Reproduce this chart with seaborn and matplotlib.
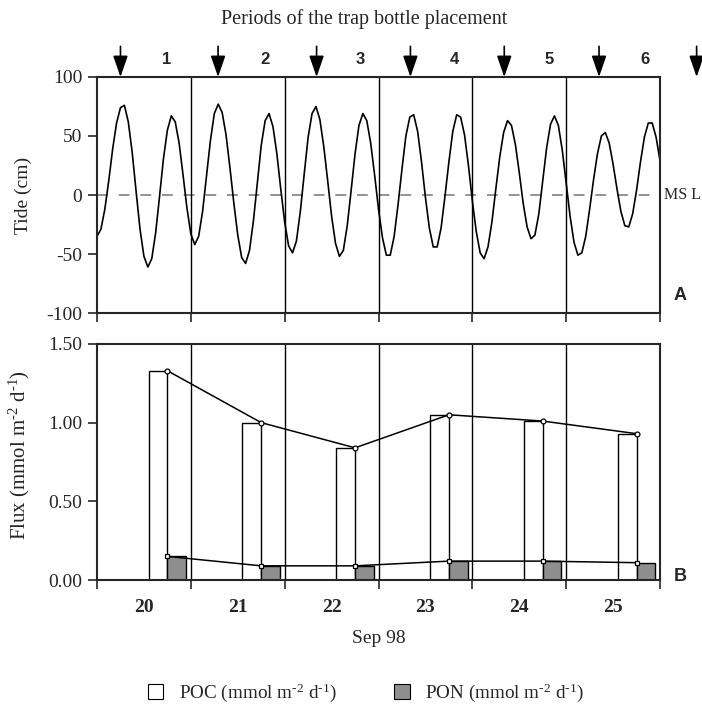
import numpy as np
import pandas as pd
import matplotlib
matplotlib.use('Agg')
import matplotlib.pyplot as plt
import seaborn as sns
from matplotlib.patches import Patch

# tide (cm, relative to MSL), hourly readings from 20 Sep 00:00 to 26 Sep 00:00
tide_cm = [-35, -29, -12, 12, 39, 61, 74, 76, 62, 36, 3, -29, -52, -61,
           -54, -32, -1, 31, 55, 67, 62, 44, 17, -11, -33, -42, -35, -14,
           16, 46, 69, 77, 70, 51, 23, -7, -34, -53, -58, -47, -22, 10,
           42, 63, 69, 58, 35, 5, -23, -43, -49, -39, -14, 18, 49, 69,
           75, 64, 41, 12, -18, -41, -52, -47, -26, 4, 35, 59, 69, 63,
           44, 17, -12, -36, -51, -51, -35, -8, 22, 50, 66, 68, 54, 28,
           -2, -28, -44, -44, -28, -1, 28, 54, 68, 66, 51, 25, -5, -31,
           -49, -54, -44, -23, 5, 32, 53, 63, 59, 43, 19, -7, -27, -37,
           -34, -16, 12, 40, 60, 67, 59, 38, 10, -18, -40, -51, -49, -35,
           -12, 13, 35, 50, 53, 44, 26, 5, -14, -26, -27, -16, 4, 28,
           49, 61, 61, 49, 29]

# trap fluxes per day
days = [20, 21, 22, 23, 24, 25]
poc_flux = [1.33, 1.00, 0.84, 1.05, 1.01, 0.93]
pon_flux = [0.15, 0.09, 0.09, 0.12, 0.12, 0.11]

# trap bottle placement times (day of Sep) and period names
trap_times = [20.25, 21.29, 22.34, 23.34, 24.34, 25.35, 26.39]
periods = ['1', '2', '3', '4', '5', '6']

sns.set_style('ticks')
plt.rcParams['font.family'] = ['Liberation Serif', 'DejaVu Serif']
plt.rcParams['mathtext.fontset'] = 'custom'
plt.rcParams['mathtext.rm'] = 'Liberation Serif'
plt.rcParams['mathtext.it'] = 'Liberation Serif:italic'
plt.rcParams['axes.unicode_minus'] = False
plt.rcParams['axes.linewidth'] = 1.5

unit = r'(mmol m$^{\text{-2}}$ d$^{\text{-1}}$)'

fig = plt.figure(figsize=(7.02, 7.05), dpi=100)
ax1 = fig.add_axes([0.1382, 0.5560, 0.8020, 0.3348])
ax2 = fig.add_axes([0.1382, 0.1773, 0.8020, 0.3348])

# --- A: tide ---
tide = pd.DataFrame({'day': 20 + np.arange(len(tide_cm)) / 24, 'tide': tide_cm})
sns.lineplot(data=tide, x='day', y='tide', color='black', lw=1.2, ax=ax1)
ax1.axhline(0, color='#8a8a8a', lw=1.3, ls=(0, (6, 6)), zorder=1)
for d in days[1:]:
    ax1.axvline(d, color='black', lw=1.0, zorder=1)

ax1.set_xlim(20, 26)
ax1.set_ylim(-100, 100)
ax1.set_xticks(range(20, 27))
ax1.set_xticklabels([])
ax1.set_yticks([-100, -50, 0, 50, 100])
ax1.tick_params(direction='out', length=6.5, width=1.2, labelsize=14, pad=4)
ax1.set_xlabel('')
ax1.set_ylabel('Tide (cm)', fontsize=14)
ax1.yaxis.set_label_coords(-0.115, 0.5)
ax1.text(1.007, 0, 'MS L', transform=ax1.get_yaxis_transform(), fontsize=11.5,
         ha='left', va='center')
ax1.text(1.036, 0.076, 'A', transform=ax1.transAxes, fontsize=13,
         fontweight='bold', family='Liberation Sans', ha='center', va='center')

# arrows for trap bottle placement + period numbers
for t in trap_times:
    ax1.annotate('', xy=(t, 1.0), xytext=(t, 1.13),
                 xycoords=('data', 'axes fraction'),
                 textcoords=('data', 'axes fraction'),
                 arrowprops=dict(arrowstyle='-|>,head_length=1.3,head_width=0.45',
                                 color='black', lw=1.2, shrinkA=0, shrinkB=0,
                                 mutation_scale=10),
                 annotation_clip=False)
for i, p in enumerate(periods):
    xm = (trap_times[i] + trap_times[i + 1]) / 2 - 0.03
    ax1.text(xm, 1.072, p, transform=ax1.get_xaxis_transform(), fontsize=12,
             fontweight='bold', family='Liberation Sans', ha='center', va='center')
fig.text(364 / 702, 1 - 19 / 705, 'Periods of the trap bottle placement',
         fontsize=14.5, ha='center', va='center')

# --- B: fluxes ---
day_arr = np.array(days, dtype=float)
for d in days[1:]:
    ax2.axvline(d, color='black', lw=1.0, zorder=0)
sns.barplot(x=day_arr + 0.65, y=poc_flux, native_scale=True, orient='x',
            width=0.2, color='white', saturation=1, edgecolor='black',
            linewidth=1.0, errorbar=None, ax=ax2, zorder=2)
sns.barplot(x=day_arr + 0.85, y=pon_flux, native_scale=True, orient='x',
            width=0.2, color='#8e8e8e', saturation=1, edgecolor='black',
            linewidth=1.0, errorbar=None, ax=ax2, zorder=2)
sns.lineplot(x=day_arr + 0.75, y=poc_flux, color='black', lw=1.1, marker='o',
             ms=3.5, mfc='white', mec='black', mew=0.9, ax=ax2, zorder=3)
sns.lineplot(x=day_arr + 0.75, y=pon_flux, color='black', lw=1.1, marker='s',
             ms=3.5, mfc='white', mec='black', mew=0.9, ax=ax2, zorder=3)

ax2.set_xlim(20, 26)
ax2.set_ylim(0, 1.5)
ax2.set_xticks(range(20, 27))
ax2.set_xticklabels([])
ax2.set_xticks(day_arr + 0.5, minor=True)
ax2.set_xticklabels([str(d) for d in days], minor=True, fontweight='bold')
ax2.tick_params(which='major', direction='out', length=6.5, width=1.2,
                labelsize=14, pad=4)
ax2.tick_params(axis='x', which='minor', length=0, labelsize=14, pad=14)
ax2.set_yticks([0, 0.5, 1.0, 1.5])
ax2.set_yticklabels(['0.00', '0.50', '1.00', '1.50'])
ax2.set_ylabel('Flux ' + unit, fontsize=15)
ax2.yaxis.set_label_coords(-0.115, 0.53)
ax2.set_xlabel('Sep 98', fontsize=14, labelpad=10)
ax2.text(1.036, 0.013, 'B', transform=ax2.transAxes, fontsize=13,
         fontweight='bold', family='Liberation Sans', ha='center', va='center')

for ax in (ax1, ax2):
    for s in ax.spines.values():
        s.set_visible(True)
        s.set_linewidth(1.5)

handles = [Patch(facecolor='white', edgecolor='black', lw=0.8),
           Patch(facecolor='#8e8e8e', edgecolor='black', lw=0.8)]
fig.legend(handles, ['POC ' + unit, 'PON ' + unit],
           loc='center', bbox_to_anchor=(366 / 702, 1 - 693 / 705), ncol=2,
           frameon=False, fontsize=13.8, handlelength=0.8, handleheight=0.8,
           columnspacing=3.0, handletextpad=0.8)

fig.savefig('out.png', dpi=100)
